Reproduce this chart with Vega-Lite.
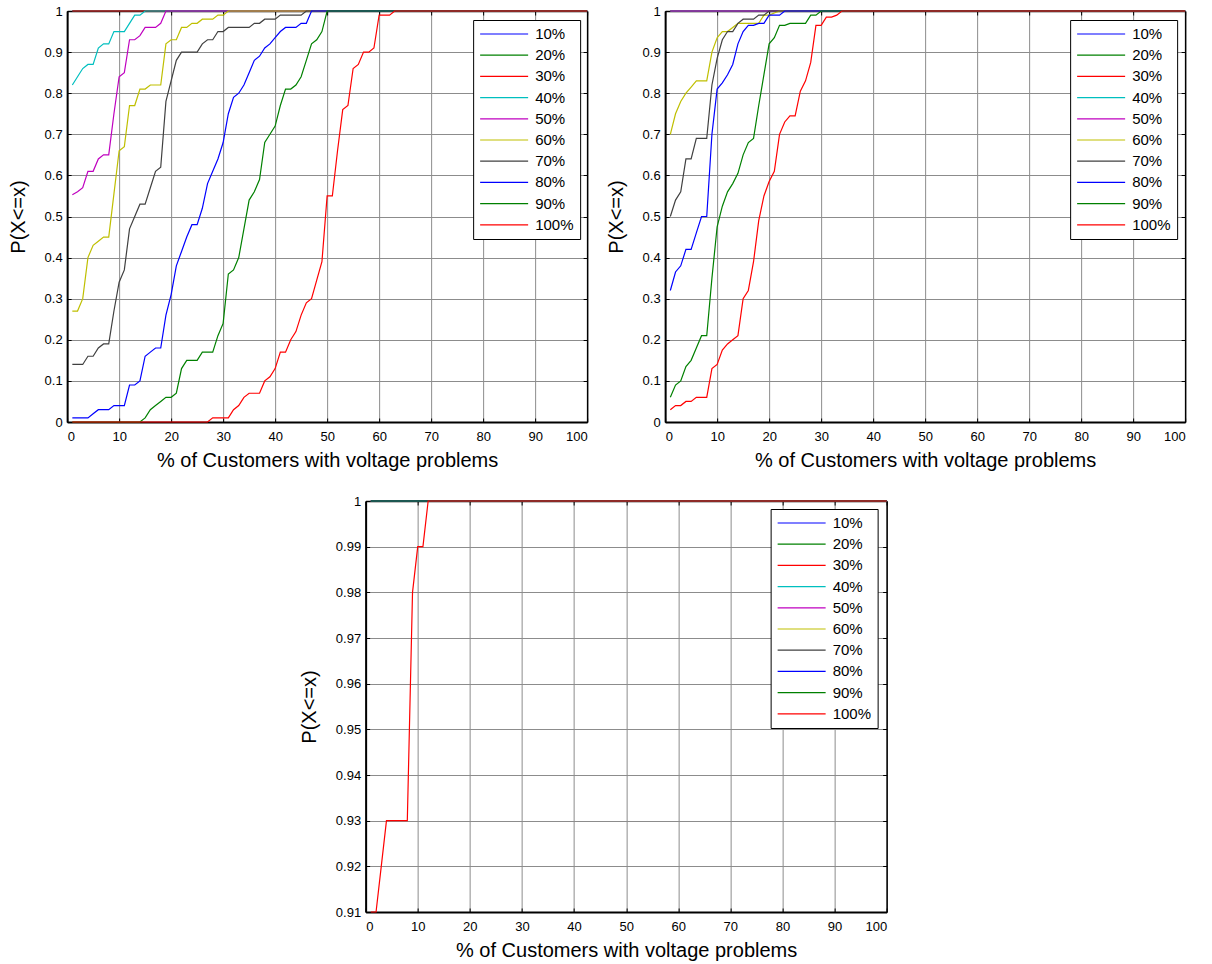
{
  "$schema": "https://vega.github.io/schema/vega-lite/v6.json",
  "padding": {"left": 8, "top": 5, "right": 5, "bottom": 5},
  "background": "white",
  "datasets": {
    "a": [
      {"s": "10%", "x": 1, "p": 1}, {"s": "10%", "x": 100, "p": 1},
      {"s": "20%", "x": 1, "p": 1}, {"s": "20%", "x": 100, "p": 1},
      {"s": "30%", "x": 1, "p": 1}, {"s": "30%", "x": 100, "p": 1},
      {"s": "40%", "x": 1, "p": 0.82}, {"s": "40%", "x": 2, "p": 0.84}, {"s": "40%", "x": 3, "p": 0.86}, {"s": "40%", "x": 4, "p": 0.87}, {"s": "40%", "x": 5, "p": 0.87}, {"s": "40%", "x": 6, "p": 0.91}, {"s": "40%", "x": 7, "p": 0.92}, {"s": "40%", "x": 8, "p": 0.92}, {"s": "40%", "x": 9, "p": 0.95}, {"s": "40%", "x": 10, "p": 0.95}, {"s": "40%", "x": 11, "p": 0.95}, {"s": "40%", "x": 12, "p": 0.97}, {"s": "40%", "x": 13, "p": 0.99}, {"s": "40%", "x": 14, "p": 0.99}, {"s": "40%", "x": 15, "p": 1}, {"s": "40%", "x": 100, "p": 1},
      {"s": "50%", "x": 1, "p": 0.553}, {"s": "50%", "x": 2, "p": 0.56}, {"s": "50%", "x": 3, "p": 0.57}, {"s": "50%", "x": 4, "p": 0.61}, {"s": "50%", "x": 5, "p": 0.61}, {"s": "50%", "x": 6, "p": 0.64}, {"s": "50%", "x": 7, "p": 0.65}, {"s": "50%", "x": 8, "p": 0.65}, {"s": "50%", "x": 9, "p": 0.75}, {"s": "50%", "x": 10, "p": 0.84}, {"s": "50%", "x": 11, "p": 0.85}, {"s": "50%", "x": 12, "p": 0.93}, {"s": "50%", "x": 13, "p": 0.93}, {"s": "50%", "x": 14, "p": 0.94}, {"s": "50%", "x": 15, "p": 0.96}, {"s": "50%", "x": 16, "p": 0.96}, {"s": "50%", "x": 17, "p": 0.96}, {"s": "50%", "x": 18, "p": 0.97}, {"s": "50%", "x": 19, "p": 1}, {"s": "50%", "x": 100, "p": 1},
      {"s": "60%", "x": 1, "p": 0.27}, {"s": "60%", "x": 2, "p": 0.27}, {"s": "60%", "x": 3, "p": 0.3}, {"s": "60%", "x": 4, "p": 0.4}, {"s": "60%", "x": 5, "p": 0.43}, {"s": "60%", "x": 6, "p": 0.44}, {"s": "60%", "x": 7, "p": 0.45}, {"s": "60%", "x": 8, "p": 0.45}, {"s": "60%", "x": 9, "p": 0.555}, {"s": "60%", "x": 10, "p": 0.66}, {"s": "60%", "x": 11, "p": 0.67}, {"s": "60%", "x": 12, "p": 0.77}, {"s": "60%", "x": 13, "p": 0.77}, {"s": "60%", "x": 14, "p": 0.81}, {"s": "60%", "x": 15, "p": 0.81}, {"s": "60%", "x": 16, "p": 0.82}, {"s": "60%", "x": 17, "p": 0.82}, {"s": "60%", "x": 18, "p": 0.82}, {"s": "60%", "x": 19, "p": 0.92}, {"s": "60%", "x": 20, "p": 0.93}, {"s": "60%", "x": 21, "p": 0.93}, {"s": "60%", "x": 22, "p": 0.96}, {"s": "60%", "x": 23, "p": 0.96}, {"s": "60%", "x": 24, "p": 0.97}, {"s": "60%", "x": 25, "p": 0.97}, {"s": "60%", "x": 26, "p": 0.98}, {"s": "60%", "x": 27, "p": 0.98}, {"s": "60%", "x": 28, "p": 0.98}, {"s": "60%", "x": 29, "p": 0.99}, {"s": "60%", "x": 30, "p": 0.99}, {"s": "60%", "x": 31, "p": 1}, {"s": "60%", "x": 100, "p": 1},
      {"s": "70%", "x": 1, "p": 0.14}, {"s": "70%", "x": 2, "p": 0.14}, {"s": "70%", "x": 3, "p": 0.14}, {"s": "70%", "x": 4, "p": 0.16}, {"s": "70%", "x": 5, "p": 0.16}, {"s": "70%", "x": 6, "p": 0.18}, {"s": "70%", "x": 7, "p": 0.19}, {"s": "70%", "x": 8, "p": 0.19}, {"s": "70%", "x": 9, "p": 0.27}, {"s": "70%", "x": 10, "p": 0.34}, {"s": "70%", "x": 11, "p": 0.37}, {"s": "70%", "x": 12, "p": 0.47}, {"s": "70%", "x": 13, "p": 0.5}, {"s": "70%", "x": 14, "p": 0.53}, {"s": "70%", "x": 15, "p": 0.53}, {"s": "70%", "x": 16, "p": 0.57}, {"s": "70%", "x": 17, "p": 0.61}, {"s": "70%", "x": 18, "p": 0.62}, {"s": "70%", "x": 19, "p": 0.78}, {"s": "70%", "x": 20, "p": 0.83}, {"s": "70%", "x": 21, "p": 0.88}, {"s": "70%", "x": 22, "p": 0.9}, {"s": "70%", "x": 23, "p": 0.9}, {"s": "70%", "x": 24, "p": 0.9}, {"s": "70%", "x": 25, "p": 0.9}, {"s": "70%", "x": 26, "p": 0.92}, {"s": "70%", "x": 27, "p": 0.93}, {"s": "70%", "x": 28, "p": 0.93}, {"s": "70%", "x": 29, "p": 0.95}, {"s": "70%", "x": 30, "p": 0.95}, {"s": "70%", "x": 31, "p": 0.96}, {"s": "70%", "x": 32, "p": 0.96}, {"s": "70%", "x": 33, "p": 0.96}, {"s": "70%", "x": 34, "p": 0.96}, {"s": "70%", "x": 35, "p": 0.96}, {"s": "70%", "x": 36, "p": 0.97}, {"s": "70%", "x": 37, "p": 0.97}, {"s": "70%", "x": 38, "p": 0.98}, {"s": "70%", "x": 39, "p": 0.98}, {"s": "70%", "x": 40, "p": 0.98}, {"s": "70%", "x": 41, "p": 0.99}, {"s": "70%", "x": 42, "p": 0.99}, {"s": "70%", "x": 43, "p": 0.99}, {"s": "70%", "x": 44, "p": 0.99}, {"s": "70%", "x": 45, "p": 0.99}, {"s": "70%", "x": 46, "p": 1}, {"s": "70%", "x": 100, "p": 1},
      {"s": "80%", "x": 1, "p": 0.01}, {"s": "80%", "x": 2, "p": 0.01}, {"s": "80%", "x": 3, "p": 0.01}, {"s": "80%", "x": 4, "p": 0.01}, {"s": "80%", "x": 5, "p": 0.02}, {"s": "80%", "x": 6, "p": 0.03}, {"s": "80%", "x": 7, "p": 0.03}, {"s": "80%", "x": 8, "p": 0.03}, {"s": "80%", "x": 9, "p": 0.04}, {"s": "80%", "x": 10, "p": 0.04}, {"s": "80%", "x": 11, "p": 0.04}, {"s": "80%", "x": 12, "p": 0.09}, {"s": "80%", "x": 13, "p": 0.09}, {"s": "80%", "x": 14, "p": 0.1}, {"s": "80%", "x": 15, "p": 0.16}, {"s": "80%", "x": 16, "p": 0.17}, {"s": "80%", "x": 17, "p": 0.18}, {"s": "80%", "x": 18, "p": 0.18}, {"s": "80%", "x": 19, "p": 0.26}, {"s": "80%", "x": 20, "p": 0.31}, {"s": "80%", "x": 21, "p": 0.38}, {"s": "80%", "x": 22, "p": 0.415}, {"s": "80%", "x": 23, "p": 0.45}, {"s": "80%", "x": 24, "p": 0.48}, {"s": "80%", "x": 25, "p": 0.48}, {"s": "80%", "x": 26, "p": 0.52}, {"s": "80%", "x": 27, "p": 0.58}, {"s": "80%", "x": 28, "p": 0.61}, {"s": "80%", "x": 29, "p": 0.64}, {"s": "80%", "x": 30, "p": 0.68}, {"s": "80%", "x": 31, "p": 0.75}, {"s": "80%", "x": 32, "p": 0.79}, {"s": "80%", "x": 33, "p": 0.8}, {"s": "80%", "x": 34, "p": 0.82}, {"s": "80%", "x": 35, "p": 0.85}, {"s": "80%", "x": 36, "p": 0.88}, {"s": "80%", "x": 37, "p": 0.89}, {"s": "80%", "x": 38, "p": 0.91}, {"s": "80%", "x": 39, "p": 0.92}, {"s": "80%", "x": 40, "p": 0.935}, {"s": "80%", "x": 41, "p": 0.95}, {"s": "80%", "x": 42, "p": 0.96}, {"s": "80%", "x": 43, "p": 0.96}, {"s": "80%", "x": 44, "p": 0.96}, {"s": "80%", "x": 45, "p": 0.97}, {"s": "80%", "x": 46, "p": 0.97}, {"s": "80%", "x": 47, "p": 1}, {"s": "80%", "x": 100, "p": 1},
      {"s": "90%", "x": 1, "p": 0}, {"s": "90%", "x": 14, "p": 0}, {"s": "90%", "x": 15, "p": 0.01}, {"s": "90%", "x": 16, "p": 0.03}, {"s": "90%", "x": 17, "p": 0.04}, {"s": "90%", "x": 18, "p": 0.05}, {"s": "90%", "x": 19, "p": 0.06}, {"s": "90%", "x": 20, "p": 0.06}, {"s": "90%", "x": 21, "p": 0.07}, {"s": "90%", "x": 22, "p": 0.13}, {"s": "90%", "x": 23, "p": 0.15}, {"s": "90%", "x": 24, "p": 0.15}, {"s": "90%", "x": 25, "p": 0.15}, {"s": "90%", "x": 26, "p": 0.17}, {"s": "90%", "x": 27, "p": 0.17}, {"s": "90%", "x": 28, "p": 0.17}, {"s": "90%", "x": 29, "p": 0.21}, {"s": "90%", "x": 30, "p": 0.24}, {"s": "90%", "x": 31, "p": 0.36}, {"s": "90%", "x": 32, "p": 0.37}, {"s": "90%", "x": 33, "p": 0.4}, {"s": "90%", "x": 34, "p": 0.47}, {"s": "90%", "x": 35, "p": 0.54}, {"s": "90%", "x": 36, "p": 0.56}, {"s": "90%", "x": 37, "p": 0.59}, {"s": "90%", "x": 38, "p": 0.68}, {"s": "90%", "x": 39, "p": 0.7}, {"s": "90%", "x": 40, "p": 0.72}, {"s": "90%", "x": 41, "p": 0.77}, {"s": "90%", "x": 42, "p": 0.81}, {"s": "90%", "x": 43, "p": 0.81}, {"s": "90%", "x": 44, "p": 0.82}, {"s": "90%", "x": 45, "p": 0.84}, {"s": "90%", "x": 46, "p": 0.88}, {"s": "90%", "x": 47, "p": 0.92}, {"s": "90%", "x": 48, "p": 0.93}, {"s": "90%", "x": 49, "p": 0.95}, {"s": "90%", "x": 50, "p": 1}, {"s": "90%", "x": 100, "p": 1},
      {"s": "100%", "x": 1, "p": 0}, {"s": "100%", "x": 27, "p": 0}, {"s": "100%", "x": 28, "p": 0.01}, {"s": "100%", "x": 29, "p": 0.01}, {"s": "100%", "x": 30, "p": 0.01}, {"s": "100%", "x": 31, "p": 0.01}, {"s": "100%", "x": 32, "p": 0.03}, {"s": "100%", "x": 33, "p": 0.04}, {"s": "100%", "x": 34, "p": 0.06}, {"s": "100%", "x": 35, "p": 0.07}, {"s": "100%", "x": 36, "p": 0.07}, {"s": "100%", "x": 37, "p": 0.07}, {"s": "100%", "x": 38, "p": 0.1}, {"s": "100%", "x": 39, "p": 0.11}, {"s": "100%", "x": 40, "p": 0.13}, {"s": "100%", "x": 41, "p": 0.17}, {"s": "100%", "x": 42, "p": 0.17}, {"s": "100%", "x": 43, "p": 0.2}, {"s": "100%", "x": 44, "p": 0.22}, {"s": "100%", "x": 45, "p": 0.26}, {"s": "100%", "x": 46, "p": 0.29}, {"s": "100%", "x": 47, "p": 0.3}, {"s": "100%", "x": 48, "p": 0.345}, {"s": "100%", "x": 49, "p": 0.39}, {"s": "100%", "x": 50, "p": 0.55}, {"s": "100%", "x": 51, "p": 0.55}, {"s": "100%", "x": 52, "p": 0.66}, {"s": "100%", "x": 53, "p": 0.76}, {"s": "100%", "x": 54, "p": 0.77}, {"s": "100%", "x": 55, "p": 0.86}, {"s": "100%", "x": 56, "p": 0.87}, {"s": "100%", "x": 57, "p": 0.9}, {"s": "100%", "x": 58, "p": 0.9}, {"s": "100%", "x": 59, "p": 0.91}, {"s": "100%", "x": 60, "p": 0.99}, {"s": "100%", "x": 61, "p": 0.99}, {"s": "100%", "x": 62, "p": 0.99}, {"s": "100%", "x": 63, "p": 1}, {"s": "100%", "x": 100, "p": 1}
    ],
    "b": [
      {"s": "10%", "x": 1, "p": 1}, {"s": "10%", "x": 100, "p": 1},
      {"s": "20%", "x": 1, "p": 1}, {"s": "20%", "x": 100, "p": 1},
      {"s": "30%", "x": 1, "p": 1}, {"s": "30%", "x": 100, "p": 1},
      {"s": "40%", "x": 1, "p": 1}, {"s": "40%", "x": 100, "p": 1},
      {"s": "50%", "x": 1, "p": 1}, {"s": "50%", "x": 100, "p": 1},
      {"s": "60%", "x": 1, "p": 0.7}, {"s": "60%", "x": 2, "p": 0.75}, {"s": "60%", "x": 3, "p": 0.78}, {"s": "60%", "x": 4, "p": 0.8}, {"s": "60%", "x": 5, "p": 0.815}, {"s": "60%", "x": 6, "p": 0.83}, {"s": "60%", "x": 7, "p": 0.83}, {"s": "60%", "x": 8, "p": 0.83}, {"s": "60%", "x": 9, "p": 0.9}, {"s": "60%", "x": 10, "p": 0.935}, {"s": "60%", "x": 11, "p": 0.95}, {"s": "60%", "x": 12, "p": 0.95}, {"s": "60%", "x": 13, "p": 0.96}, {"s": "60%", "x": 14, "p": 0.97}, {"s": "60%", "x": 15, "p": 0.97}, {"s": "60%", "x": 16, "p": 0.97}, {"s": "60%", "x": 17, "p": 0.97}, {"s": "60%", "x": 18, "p": 0.97}, {"s": "60%", "x": 19, "p": 0.99}, {"s": "60%", "x": 20, "p": 0.99}, {"s": "60%", "x": 21, "p": 0.995}, {"s": "60%", "x": 22, "p": 1}, {"s": "60%", "x": 100, "p": 1},
      {"s": "70%", "x": 1, "p": 0.5}, {"s": "70%", "x": 2, "p": 0.54}, {"s": "70%", "x": 3, "p": 0.56}, {"s": "70%", "x": 4, "p": 0.64}, {"s": "70%", "x": 5, "p": 0.64}, {"s": "70%", "x": 6, "p": 0.69}, {"s": "70%", "x": 7, "p": 0.69}, {"s": "70%", "x": 8, "p": 0.69}, {"s": "70%", "x": 9, "p": 0.82}, {"s": "70%", "x": 10, "p": 0.885}, {"s": "70%", "x": 11, "p": 0.93}, {"s": "70%", "x": 12, "p": 0.95}, {"s": "70%", "x": 13, "p": 0.95}, {"s": "70%", "x": 14, "p": 0.97}, {"s": "70%", "x": 15, "p": 0.98}, {"s": "70%", "x": 16, "p": 0.98}, {"s": "70%", "x": 17, "p": 0.98}, {"s": "70%", "x": 18, "p": 0.99}, {"s": "70%", "x": 19, "p": 0.99}, {"s": "70%", "x": 20, "p": 1}, {"s": "70%", "x": 100, "p": 1},
      {"s": "80%", "x": 1, "p": 0.32}, {"s": "80%", "x": 2, "p": 0.365}, {"s": "80%", "x": 3, "p": 0.38}, {"s": "80%", "x": 4, "p": 0.42}, {"s": "80%", "x": 5, "p": 0.42}, {"s": "80%", "x": 6, "p": 0.46}, {"s": "80%", "x": 7, "p": 0.5}, {"s": "80%", "x": 8, "p": 0.5}, {"s": "80%", "x": 9, "p": 0.7}, {"s": "80%", "x": 10, "p": 0.81}, {"s": "80%", "x": 11, "p": 0.825}, {"s": "80%", "x": 12, "p": 0.845}, {"s": "80%", "x": 13, "p": 0.87}, {"s": "80%", "x": 14, "p": 0.92}, {"s": "80%", "x": 15, "p": 0.95}, {"s": "80%", "x": 16, "p": 0.965}, {"s": "80%", "x": 17, "p": 0.965}, {"s": "80%", "x": 18, "p": 0.97}, {"s": "80%", "x": 19, "p": 0.97}, {"s": "80%", "x": 20, "p": 0.99}, {"s": "80%", "x": 21, "p": 0.99}, {"s": "80%", "x": 22, "p": 0.99}, {"s": "80%", "x": 23, "p": 1}, {"s": "80%", "x": 100, "p": 1},
      {"s": "90%", "x": 1, "p": 0.06}, {"s": "90%", "x": 2, "p": 0.09}, {"s": "90%", "x": 3, "p": 0.1}, {"s": "90%", "x": 4, "p": 0.135}, {"s": "90%", "x": 5, "p": 0.15}, {"s": "90%", "x": 6, "p": 0.18}, {"s": "90%", "x": 7, "p": 0.21}, {"s": "90%", "x": 8, "p": 0.21}, {"s": "90%", "x": 9, "p": 0.35}, {"s": "90%", "x": 10, "p": 0.475}, {"s": "90%", "x": 11, "p": 0.525}, {"s": "90%", "x": 12, "p": 0.56}, {"s": "90%", "x": 13, "p": 0.58}, {"s": "90%", "x": 14, "p": 0.605}, {"s": "90%", "x": 15, "p": 0.65}, {"s": "90%", "x": 16, "p": 0.68}, {"s": "90%", "x": 17, "p": 0.69}, {"s": "90%", "x": 18, "p": 0.77}, {"s": "90%", "x": 19, "p": 0.845}, {"s": "90%", "x": 20, "p": 0.92}, {"s": "90%", "x": 21, "p": 0.935}, {"s": "90%", "x": 22, "p": 0.965}, {"s": "90%", "x": 23, "p": 0.965}, {"s": "90%", "x": 24, "p": 0.97}, {"s": "90%", "x": 25, "p": 0.97}, {"s": "90%", "x": 26, "p": 0.97}, {"s": "90%", "x": 27, "p": 0.97}, {"s": "90%", "x": 28, "p": 0.99}, {"s": "90%", "x": 29, "p": 0.99}, {"s": "90%", "x": 30, "p": 1}, {"s": "90%", "x": 100, "p": 1},
      {"s": "100%", "x": 1, "p": 0.03}, {"s": "100%", "x": 2, "p": 0.04}, {"s": "100%", "x": 3, "p": 0.04}, {"s": "100%", "x": 4, "p": 0.05}, {"s": "100%", "x": 5, "p": 0.05}, {"s": "100%", "x": 6, "p": 0.06}, {"s": "100%", "x": 7, "p": 0.06}, {"s": "100%", "x": 8, "p": 0.06}, {"s": "100%", "x": 9, "p": 0.13}, {"s": "100%", "x": 10, "p": 0.14}, {"s": "100%", "x": 11, "p": 0.175}, {"s": "100%", "x": 12, "p": 0.19}, {"s": "100%", "x": 13, "p": 0.2}, {"s": "100%", "x": 14, "p": 0.21}, {"s": "100%", "x": 15, "p": 0.3}, {"s": "100%", "x": 16, "p": 0.32}, {"s": "100%", "x": 17, "p": 0.39}, {"s": "100%", "x": 18, "p": 0.49}, {"s": "100%", "x": 19, "p": 0.55}, {"s": "100%", "x": 20, "p": 0.585}, {"s": "100%", "x": 21, "p": 0.61}, {"s": "100%", "x": 22, "p": 0.7}, {"s": "100%", "x": 23, "p": 0.73}, {"s": "100%", "x": 24, "p": 0.745}, {"s": "100%", "x": 25, "p": 0.745}, {"s": "100%", "x": 26, "p": 0.805}, {"s": "100%", "x": 27, "p": 0.83}, {"s": "100%", "x": 28, "p": 0.875}, {"s": "100%", "x": 29, "p": 0.965}, {"s": "100%", "x": 30, "p": 0.965}, {"s": "100%", "x": 31, "p": 0.985}, {"s": "100%", "x": 32, "p": 0.985}, {"s": "100%", "x": 33, "p": 0.99}, {"s": "100%", "x": 34, "p": 1}, {"s": "100%", "x": 100, "p": 1}
    ],
    "c": [
      {"s": "10%", "x": 1, "p": 1}, {"s": "10%", "x": 100, "p": 1},
      {"s": "20%", "x": 1, "p": 1}, {"s": "20%", "x": 100, "p": 1},
      {"s": "30%", "x": 1, "p": 1}, {"s": "30%", "x": 100, "p": 1},
      {"s": "40%", "x": 1, "p": 1}, {"s": "40%", "x": 100, "p": 1},
      {"s": "50%", "x": 1, "p": 1}, {"s": "50%", "x": 100, "p": 1},
      {"s": "60%", "x": 1, "p": 1}, {"s": "60%", "x": 100, "p": 1},
      {"s": "70%", "x": 1, "p": 1}, {"s": "70%", "x": 100, "p": 1},
      {"s": "80%", "x": 1, "p": 1}, {"s": "80%", "x": 100, "p": 1},
      {"s": "90%", "x": 1, "p": 1}, {"s": "90%", "x": 100, "p": 1},
      {"s": "100%", "x": 1, "p": 0.91}, {"s": "100%", "x": 2, "p": 0.91}, {"s": "100%", "x": 3, "p": 0.92}, {"s": "100%", "x": 4, "p": 0.93}, {"s": "100%", "x": 5, "p": 0.93}, {"s": "100%", "x": 6, "p": 0.93}, {"s": "100%", "x": 7, "p": 0.93}, {"s": "100%", "x": 8, "p": 0.93}, {"s": "100%", "x": 9, "p": 0.98}, {"s": "100%", "x": 10, "p": 0.99}, {"s": "100%", "x": 11, "p": 0.99}, {"s": "100%", "x": 12, "p": 1}, {"s": "100%", "x": 100, "p": 1}
    ]
  },
  "vconcat": [
    {
      "hconcat": [
        {
          "width": 520, "height": 411,
          "data": {"name": "a"},
          "layer": [
            {
              "mark": {"type": "line", "strokeWidth": 1.2},
              "encoding": {
                "x": {"field": "x", "type": "quantitative", "scale": {"domain": [0, 100], "nice": false}, "axis": {"values": [0,10,20,30,40,50,60,70,80,90,100], "grid": true, "tickSize": -4, "labelPadding": 12, "title": "% of Customers with voltage problems", "titlePadding": 7, "domainWidth": 2}},
                "y": {"field": "p", "type": "quantitative", "scale": {"domain": [0, 1], "nice": false, "zero": false}, "axis": {"values": [0,0.1,0.2,0.3,0.4,0.5,0.6,0.7,0.8,0.9,1], "format": "~g", "grid": true, "tickSize": -4, "labelPadding": 9, "title": "P(X<=x)", "titlePadding": 16, "domainWidth": 2}},
                "color": {"field": "s", "type": "nominal",
                  "scale": {"domain": ["10%","20%","30%","40%","50%","60%","70%","80%","90%","100%"], "range": ["#0000ff","#008000","#ff0000","#00bfbf","#bf00bf","#bfbf00","#404040","#0000ff","#008000","#ff0000"]},
                  "legend": {"orient": "none", "legendX": 406, "legendY": 9, "title": null, "strokeColor": "black", "fillColor": "white", "padding": 6, "rowPadding": 5.2, "clipHeight": 16, "symbolType": "stroke", "symbolSize": 2304, "symbolStrokeWidth": 1.2, "labelFont": "Liberation Sans", "labelFontSize": 15, "labelColor": "black", "labelOffset": 6, "cornerRadius": 0}}
              }
            },
            {
              "mark": {"type": "point", "opacity": 0},
              "encoding": {
                "x": {"field": "x", "type": "quantitative", "axis": {"orient": "top", "values": [0,10,20,30,40,50,60,70,80,90,100], "labels": false, "title": null, "grid": false, "tickSize": -4, "domainWidth": 1.5}},
                "y": {"field": "p", "type": "quantitative", "axis": {"orient": "right", "values": [0,0.1,0.2,0.3,0.4,0.5,0.6,0.7,0.8,0.9,1], "labels": false, "title": null, "grid": false, "tickSize": -4, "domainWidth": 1.5}}
              }
            }
          ],
          "resolve": {"axis": {"x": "independent", "y": "independent"}}
        },
        {
          "width": 520, "height": 411,
          "data": {"name": "b"},
          "layer": [
            {
              "mark": {"type": "line", "strokeWidth": 1.2},
              "encoding": {
                "x": {"field": "x", "type": "quantitative", "scale": {"domain": [0, 100], "nice": false}, "axis": {"values": [0,10,20,30,40,50,60,70,80,90,100], "grid": true, "tickSize": -4, "labelPadding": 12, "title": "% of Customers with voltage problems", "titlePadding": 7, "domainWidth": 2}},
                "y": {"field": "p", "type": "quantitative", "scale": {"domain": [0, 1], "nice": false, "zero": false}, "axis": {"values": [0,0.1,0.2,0.3,0.4,0.5,0.6,0.7,0.8,0.9,1], "format": "~g", "grid": true, "tickSize": -4, "labelPadding": 9, "title": "P(X<=x)", "titlePadding": 16, "domainWidth": 2}},
                "color": {"field": "s", "type": "nominal",
                  "scale": {"domain": ["10%","20%","30%","40%","50%","60%","70%","80%","90%","100%"], "range": ["#0000ff","#008000","#ff0000","#00bfbf","#bf00bf","#bfbf00","#404040","#0000ff","#008000","#ff0000"]},
                  "legend": {"orient": "none", "legendX": 405, "legendY": 9, "title": null, "strokeColor": "black", "fillColor": "white", "padding": 6, "rowPadding": 5.2, "clipHeight": 16, "symbolType": "stroke", "symbolSize": 2304, "symbolStrokeWidth": 1.2, "labelFont": "Liberation Sans", "labelFontSize": 15, "labelColor": "black", "labelOffset": 6, "cornerRadius": 0}}
              }
            },
            {
              "mark": {"type": "point", "opacity": 0},
              "encoding": {
                "x": {"field": "x", "type": "quantitative", "axis": {"orient": "top", "values": [0,10,20,30,40,50,60,70,80,90,100], "labels": false, "title": null, "grid": false, "tickSize": -4, "domainWidth": 1.5}},
                "y": {"field": "p", "type": "quantitative", "axis": {"orient": "right", "values": [0,0.1,0.2,0.3,0.4,0.5,0.6,0.7,0.8,0.9,1], "labels": false, "title": null, "grid": false, "tickSize": -4, "domainWidth": 1.5}}
              }
            }
          ],
          "resolve": {"axis": {"x": "independent", "y": "independent"}}
        }
      ],
      "spacing": 15,
      "resolve": {"legend": {"color": "independent"}}
    },
    {
      "width": 521, "height": 411,
      "data": {"name": "c"},
      "layer": [
        {
          "mark": {"type": "line", "strokeWidth": 1.2},
          "encoding": {
            "x": {"field": "x", "type": "quantitative", "scale": {"domain": [0, 100], "nice": false}, "axis": {"values": [0,10,20,30,40,50,60,70,80,90,100], "grid": true, "tickSize": -4, "labelPadding": 12, "title": "% of Customers with voltage problems", "titlePadding": 7, "domainWidth": 2}},
            "y": {"field": "p", "type": "quantitative", "scale": {"domain": [0.91, 1], "nice": false, "zero": false}, "axis": {"values": [0.91,0.92,0.93,0.94,0.95,0.96,0.97,0.98,0.99,1], "format": "~g", "grid": true, "tickSize": -4, "labelPadding": 9, "title": "P(X<=x)", "titlePadding": 16, "domainWidth": 2}},
            "color": {"field": "s", "type": "nominal",
              "scale": {"domain": ["10%","20%","30%","40%","50%","60%","70%","80%","90%","100%"], "range": ["#0000ff","#008000","#ff0000","#00bfbf","#bf00bf","#bfbf00","#404040","#0000ff","#008000","#ff0000"]},
              "legend": {"orient": "none", "legendX": 405, "legendY": 8, "title": null, "strokeColor": "black", "fillColor": "white", "padding": 6, "rowPadding": 5.2, "clipHeight": 16, "symbolType": "stroke", "symbolSize": 2304, "symbolStrokeWidth": 1.2, "labelFont": "Liberation Sans", "labelFontSize": 15, "labelColor": "black", "labelOffset": 6, "cornerRadius": 0}}
          }
        },
        {
          "mark": {"type": "point", "opacity": 0},
          "encoding": {
            "x": {"field": "x", "type": "quantitative", "axis": {"orient": "top", "values": [0,10,20,30,40,50,60,70,80,90,100], "labels": false, "title": null, "grid": false, "tickSize": -4, "domainWidth": 1.5}},
            "y": {"field": "p", "type": "quantitative", "axis": {"orient": "right", "values": [0.91,0.92,0.93,0.94,0.95,0.96,0.97,0.98,0.99,1], "labels": false, "title": null, "grid": false, "tickSize": -4, "domainWidth": 1.5}}
          }
        }
      ],
      "resolve": {"axis": {"x": "independent", "y": "independent"}}
    }
  ],
  "spacing": 25,
  "center": true,
  "resolve": {"legend": {"color": "independent"}},
  "config": {
    "view": {"stroke": null},
    "font": "Liberation Sans",
    "axis": {"labelFont": "Liberation Sans", "labelFontSize": 13, "labelColor": "black", "titleFont": "Liberation Sans", "titleFontSize": 20, "titleFontWeight": "normal", "titleColor": "black", "domainColor": "black", "tickColor": "black", "tickWidth": 1, "gridColor": "#8c8c8c", "gridOpacity": 1, "gridWidth": 1}
  }
}
